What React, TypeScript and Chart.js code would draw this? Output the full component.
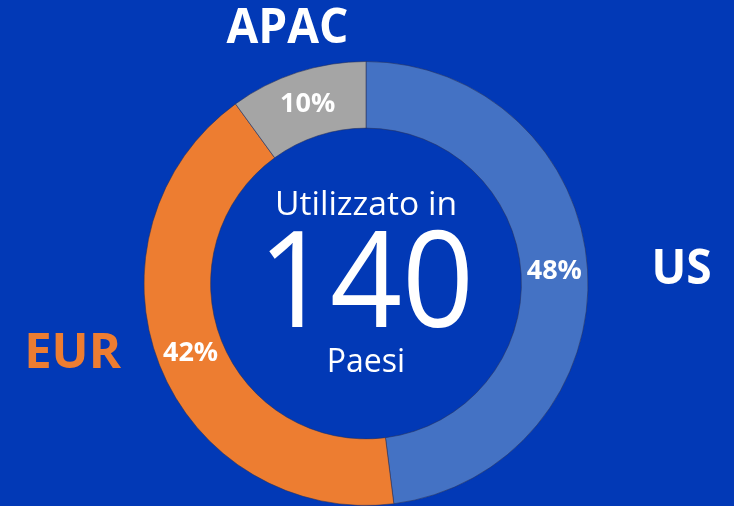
import React, { useEffect, useRef } from "react";
import { Chart, registerables } from "chart.js";

Chart.register(...registerables);

const categories = ["US", "EUR", "APAC"];
const shares = [48, 42, 10];
const centerTop = "Utilizzato in";
const centerValue = "140";
const centerBottom = "Paesi";

const segmentColors = ["#4472c4", "#ed7d31", "#a5a5a5"];
const outerLabelColors = ["#ffffff", "#ed7d31", "#ffffff"];
const outerLabelOffsets = [
  [94, -2],
  [-87, -13],
  [-10, -45],
];
const BG = "#0239b6";
const FONT = "'Open Sans', 'Noto Sans', sans-serif";

function scaledText(ctx: any, text: string, x: number, y: number, sx: number) {
  ctx.save();
  ctx.translate(x, y);
  ctx.scale(sx, 1);
  ctx.fillText(text, 0, 0);
  ctx.restore();
}

const labelsPlugin = {
  id: "doughnutLabels",
  afterDatasetsDraw(chart: any) {
    const ctx = chart.ctx;
    const meta = chart.getDatasetMeta(0);
    const data = chart.data.datasets[0].data as number[];
    const total = data.reduce((a, b) => a + b, 0);
    ctx.save();
    let cx = 0;
    let cy = 0;
    meta.data.forEach((arc: any, i: number) => {
      const p = arc.getProps(["x", "y", "startAngle", "endAngle", "innerRadius", "outerRadius"], true);
      cx = p.x;
      cy = p.y;
      const mid = (p.startAngle + p.endAngle) / 2;
      const rMid = (p.innerRadius + p.outerRadius) / 2;
      ctx.fillStyle = "#ffffff";
      ctx.font = `700 27px ${FONT}`;
      ctx.textAlign = "center";
      ctx.textBaseline = "middle";
      const pct = Math.round((data[i] / total) * 100) + "%";
      ctx.fillText(pct, p.x + Math.cos(mid) * rMid, p.y + Math.sin(mid) * rMid);
      const ox = p.x + Math.cos(mid) * p.outerRadius + outerLabelOffsets[i][0];
      const oy = p.y + Math.sin(mid) * p.outerRadius + outerLabelOffsets[i][1];
      ctx.fillStyle = outerLabelColors[i];
      ctx.font = `700 49px ${FONT}`;
      scaledText(ctx, chart.data.labels[i], ox, oy + 2, i === 1 ? 1 : 0.94);
    });
    ctx.fillStyle = "#ffffff";
    ctx.textAlign = "center";
    ctx.textBaseline = "alphabetic";
    ctx.font = `400 32px ${FONT}`;
    scaledText(ctx, centerTop, cx, cy - 69, 1.05);
    ctx.font = `400 134px ${FONT}`;
    scaledText(ctx, centerValue, cx, cy + 43, 0.94);
    ctx.font = `400 32px ${FONT}`;
    ctx.fillText(centerBottom, cx, cy + 88);
    ctx.restore();
  },
};

export default function App() {
  const ref = useRef<HTMLCanvasElement>(null);
  useEffect(() => {
    if (!ref.current) return;
    const chart = new Chart(ref.current, {
      type: "doughnut",
      data: {
        labels: categories,
        datasets: [
          {
            data: shares,
            backgroundColor: segmentColors,
            borderColor: "rgba(40,50,90,0.55)",
            borderWidth: 1,
          },
        ],
      },
      options: {
        responsive: false,
        animation: false,
        devicePixelRatio: 1,
        cutout: "70%",
        layout: { padding: { top: 61, left: 143, right: 145, bottom: 0 } },
        plugins: {
          legend: { display: false },
          tooltip: { enabled: false },
        },
      },
      plugins: [labelsPlugin],
    });
    return () => chart.destroy();
  }, []);
  return (
    <div
      style={{
        position: "fixed",
        left: 0,
        top: 0,
        width: 734,
        height: 506,
        background: BG,
        overflow: "hidden",
      }}
    >
      <canvas ref={ref} width={734} height={506} style={{ display: "block" }} />
    </div>
  );
}
